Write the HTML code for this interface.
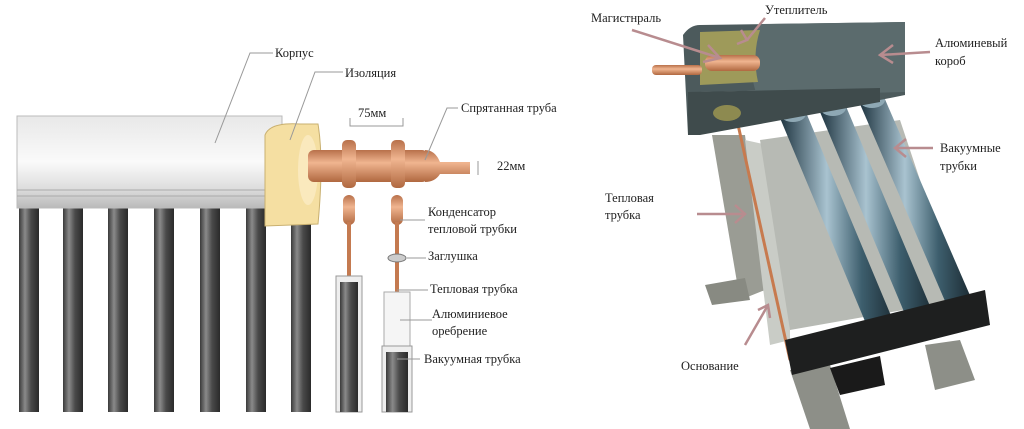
<!DOCTYPE html>
<html><head><meta charset="utf-8"><style>
html,body{margin:0;padding:0;background:#fff;width:1024px;height:429px;overflow:hidden}
svg text{font-family:"Liberation Serif","DejaVu Serif",serif;font-size:12.5px;fill:#222}
</style></head><body>
<svg width="1024" height="429" viewBox="0 0 1024 429" xmlns="http://www.w3.org/2000/svg">
<defs>
<linearGradient id="tube" x1="0" x2="1" y1="0" y2="0">
<stop offset="0" stop-color="#3a3a3a"/><stop offset=".3" stop-color="#8a8a8a"/><stop offset=".6" stop-color="#4a4a4a"/><stop offset="1" stop-color="#2a2a2a"/></linearGradient>
<linearGradient id="box" x1="0" x2="0" y1="0" y2="1">
<stop offset="0" stop-color="#e8e8e8"/><stop offset=".5" stop-color="#fafafa"/><stop offset=".8" stop-color="#dcdcdc"/><stop offset="1" stop-color="#b9b9b9"/></linearGradient>
<linearGradient id="cu" x1="0" x2="0" y1="0" y2="1">
<stop offset="0" stop-color="#b8704a"/><stop offset=".4" stop-color="#f0b590"/><stop offset="1" stop-color="#b06840"/></linearGradient>
<linearGradient id="vt" x1="0" x2="1" y1="0" y2="0">
<stop offset="0" stop-color="#1e3440"/><stop offset=".4" stop-color="#a9c3d0"/><stop offset=".7" stop-color="#3d5e6d"/><stop offset="1" stop-color="#1b2a32"/></linearGradient>
</defs>
<!-- LEFT -->
<g>
<g fill="url(#tube)">
<rect x="19" y="207" width="20" height="205"/><rect x="63" y="207" width="20" height="205"/>
<rect x="108" y="207" width="20" height="205"/><rect x="154" y="207" width="20" height="205"/>
<rect x="200" y="207" width="20" height="205"/><rect x="246" y="207" width="20" height="205"/>
<rect x="291" y="207" width="20" height="205"/>
</g>
<rect x="17" y="116" width="265" height="92" fill="url(#box)" stroke="#bbb"/>
<line x1="17" y1="190" x2="280" y2="190" stroke="#aaa"/><line x1="17" y1="196" x2="280" y2="196" stroke="#aaa"/>
<path d="M265 135 Q270 122 300 124 L318 124 Q324 160 318 224 L265 226 Z" fill="#f5dfa2" stroke="#c9b070"/>
<ellipse cx="308" cy="170" rx="10" ry="35" fill="#fae9bd"/>
<rect x="308" y="150" width="120" height="32" rx="6" fill="url(#cu)"/>
<path d="M425 150 Q435 150 440 162 L470 162 L470 174 L440 174 Q435 182 425 182Z" fill="url(#cu)"/>
<rect x="342" y="140" width="14" height="48" rx="5" fill="url(#cu)"/>
<rect x="391" y="140" width="14" height="48" rx="5" fill="url(#cu)"/>
<rect x="343" y="195" width="12" height="30" rx="6" fill="url(#cu)"/>
<rect x="391" y="195" width="12" height="30" rx="6" fill="url(#cu)"/>
<rect x="347" y="222" width="4" height="80" fill="#c47a50"/>
<rect x="395" y="222" width="4" height="120" fill="#c47a50"/>
<ellipse cx="397" cy="258" rx="9" ry="4" fill="#ccc" stroke="#777"/>
<rect x="336" y="276" width="26" height="136" fill="#eee" stroke="#999"/>
<rect x="340" y="282" width="18" height="130" fill="url(#tube)"/>
<rect x="384" y="292" width="26" height="60" fill="#f5f5f5" stroke="#aaa"/>
<rect x="382" y="346" width="30" height="66" fill="#eee" stroke="#999"/>
<rect x="386" y="352" width="22" height="60" fill="url(#tube)"/>
<g stroke="#999" fill="none" stroke-width="1">
<polyline points="215,143 250,53 273,53"/>
<polyline points="290,140 315,72 343,72"/>
<polyline points="350,118 350,126 403,126 403,118"/>
<polyline points="425,160 447,108 458,108"/>
<line x1="478" y1="161" x2="478" y2="175"/>
<polyline points="400,220 425,220"/>
<polyline points="407,258 426,258"/>
<polyline points="397,290 428,290"/>
<polyline points="400,320 432,320"/>
<polyline points="397,359 420,359"/>
</g>
<text x="275" y="57">Корпус</text>
<text x="345" y="77">Изоляция</text>
<text x="358" y="117" font-size="11">75мм</text>
<text x="461" y="112">Спрятанная труба</text>
<text x="497" y="170" font-size="11">22мм</text>
<text x="428" y="216">Конденсатор</text>
<text x="428" y="233">тепловой трубки</text>
<text x="428" y="260">Заглушка</text>
<text x="430" y="293">Тепловая трубка</text>
<text x="432" y="318">Алюминиевое</text>
<text x="432" y="335">оребрение</text>
<text x="424" y="363">Вакуумная трубка</text>
</g>
<!-- RIGHT -->
<g>
<path d="M712 135 L745 135 L765 290 L740 300 Z" fill="#9a9c94"/>
<path d="M705 285 L745 278 L750 300 L712 305Z" fill="#888a82"/>
<path d="M745 140 L790 150 L790 340 L770 345 Z" fill="#c9ccc6"/>
<path d="M760 140 L900 120 L960 300 L790 330 Z" fill="#b7bab4"/>
<path d="M925 345 L960 340 L975 380 L935 390Z" fill="#8d8f88"/>
<path d="M790 370 L830 365 L850 429 L810 429Z" fill="#8d8f88"/>
<line x1="737" y1="120" x2="790" y2="360" stroke="#c77a4e" stroke-width="3"/>
<path d="M780 118 L805 110 L897 330 L872 338Z" fill="url(#vt)"/>
<path d="M820 112 L845 104 L935 318 L910 326Z" fill="url(#vt)"/>
<path d="M860 104 L884 97 L972 300 L948 308Z" fill="url(#vt)"/>
<ellipse cx="793" cy="114" rx="13" ry="8" fill="#8ea8b4"/>
<ellipse cx="833" cy="108" rx="13" ry="8" fill="#8ea8b4"/>
<ellipse cx="872" cy="100" rx="13" ry="8" fill="#8ea8b4"/>
<path d="M785 340 L985 290 L990 325 L792 375 Z" fill="#1e1f1f"/>
<path d="M830 368 L880 356 L885 385 L840 395Z" fill="#1a1a1a"/>
<path d="M683 35 Q690 25 700 25 L905 22 L905 95 L880 100 L880 88 L700 92 L700 135 L688 135 Z" fill="#4c5a5c"/>
<path d="M755 28 Q745 60 757 96 L905 92 L905 22 L760 24Z" fill="#5b6b6d"/>
<path d="M688 92 L880 88 L880 102 L700 135 L688 135Z" fill="#3f4b4c"/>
<path d="M700 32 L760 30 Q752 55 758 82 L700 85Z" fill="#9e9a5a"/>
<rect x="705" y="55" width="55" height="16" rx="7" fill="url(#cu)"/>
<rect x="652" y="65" width="50" height="10" rx="4" fill="url(#cu)"/>
<ellipse cx="727" cy="113" rx="14" ry="8" fill="#8d8a50"/>
<g stroke="#b88c8f" stroke-width="2.5" fill="none">
<path d="M632 30 L720 58 M708 45 L720 58 L703 62"/>
<path d="M765 18 L747 40 M741 30 L747 40 L737 44"/>
<path d="M930 52 L880 55 M893 45 L880 55 L893 63"/>
<path d="M933 148 L895 148 M906 139 L895 148 L906 157"/>
<path d="M697 214 L745 214 M735 205 L745 214 L735 223"/>
<path d="M745 345 L768 305 M758 310 L768 305 L770 318"/>
</g>
<text x="591" y="22">Магистнраль</text>
<text x="765" y="14">Утеплитель</text>
<text x="935" y="47">Алюминевый</text>
<text x="935" y="65">короб</text>
<text x="940" y="152">Вакуумные</text>
<text x="940" y="170">трубки</text>
<text x="605" y="202">Тепловая</text>
<text x="605" y="219">трубка</text>
<text x="681" y="370">Основание</text>
</g>
</svg>
</body></html>
